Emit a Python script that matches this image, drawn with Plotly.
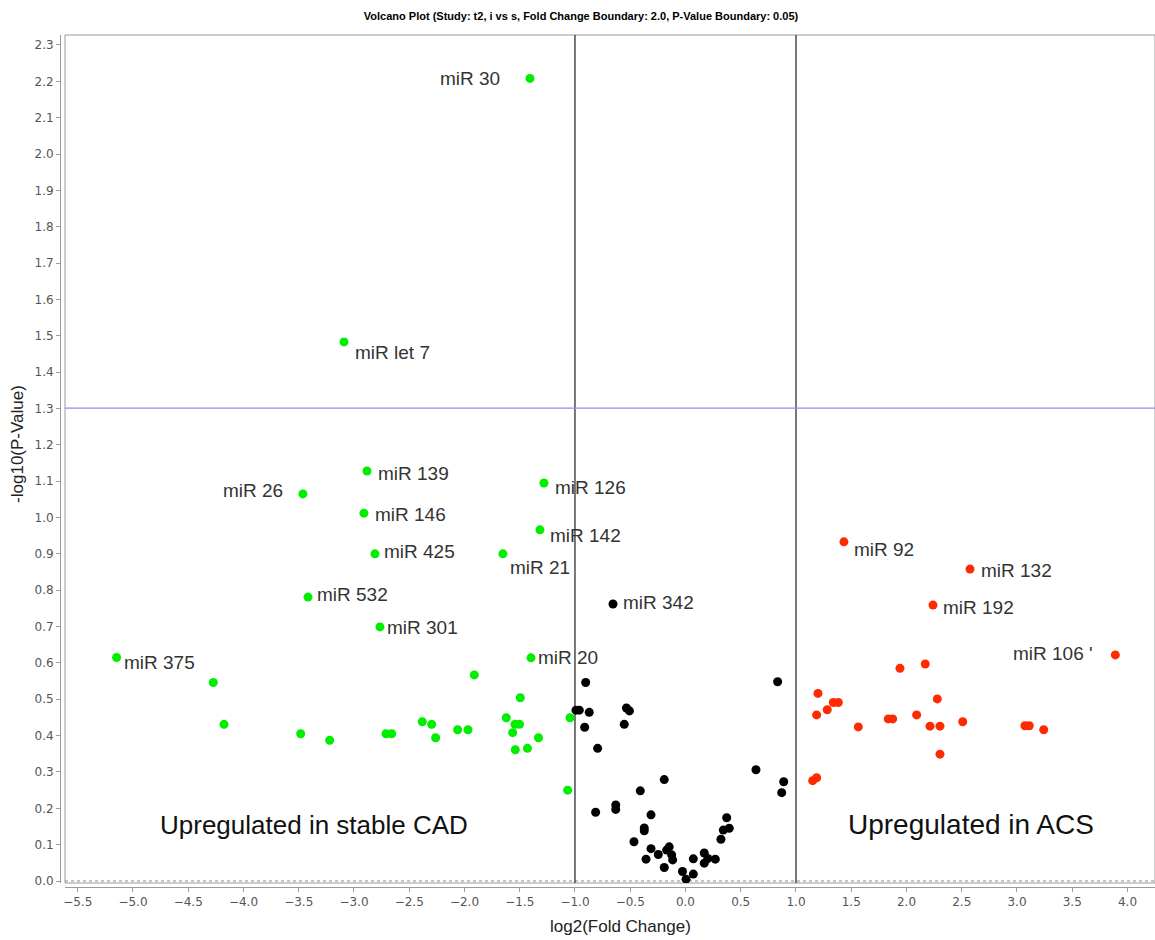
import plotly.graph_objects as go

# ---------------- data ----------------
green_x = [-1.407, -3.090, -2.882, -3.462, -1.281, -2.910, -1.317, -2.810, -1.652, -3.416,
           -2.765, -5.148, -1.398,
           -4.273, -4.176, -3.482, -3.220, -2.710, -2.659, -2.382, -2.297, -2.261, -2.062,
           -1.968, -1.911, -1.622, -1.543, -1.502, -1.564, -1.495, -1.330, -1.540, -1.430,
           -1.045, -1.066]
green_y = [2.208, 1.483, 1.128, 1.065, 1.095, 1.012, 0.966, 0.900, 0.900, 0.781,
           0.699, 0.615, 0.614,
           0.546, 0.431, 0.405, 0.387, 0.405, 0.405, 0.438, 0.431, 0.394, 0.416,
           0.416, 0.567, 0.449, 0.431, 0.431, 0.408, 0.504, 0.394, 0.361, 0.365,
           0.449, 0.250]
green_labels = ["miR 30", "miR let 7", "miR 139", "miR 26", "miR 126", "miR 146", "miR 142",
                "miR 425", "miR 21", "miR 532", "miR 301", "miR 375", "miR 20"]

black_x = [-0.656,
           -0.903, -0.991, -0.961, -0.871, -0.912, -0.795, -0.534, -0.507, -0.554, 0.834,
           -0.192, -0.409, -0.813, -0.631, -0.631, -0.312, 0.638, 0.889, 0.871, -0.373,
           -0.373, -0.466, 0.373, 0.342, 0.396, 0.321, -0.312, -0.357, -0.246, -0.170,
           -0.147, -0.125, -0.116, -0.192, -0.027, 0.005, 0.071, 0.071, 0.170, 0.170,
           0.202, 0.270]
black_y = [0.762,
           0.546, 0.470, 0.470, 0.464, 0.423, 0.365, 0.476, 0.468, 0.431, 0.548,
           0.279, 0.248, 0.189, 0.209, 0.197, 0.182, 0.306, 0.273, 0.243, 0.138,
           0.146, 0.108, 0.174, 0.140, 0.145, 0.115, 0.089, 0.060, 0.073, 0.085,
           0.094, 0.072, 0.058, 0.037, 0.026, 0.005, 0.061, 0.019, 0.077, 0.049,
           0.062, 0.060]
black_labels = ["miR 342"]

red_x = [1.434, 2.575, 2.240, 3.890,
         1.941, 2.170, 1.199, 1.187, 1.283, 1.338, 1.383, 2.279, 1.564, 1.835, 1.875,
         2.092, 2.213, 2.303, 2.509, 3.072, 3.111, 3.242, 2.303, 1.151, 1.187]
red_y = [0.933, 0.858, 0.759, 0.622,
         0.585, 0.597, 0.516, 0.457, 0.471, 0.491, 0.491, 0.501, 0.424, 0.446, 0.446,
         0.457, 0.426, 0.426, 0.438, 0.427, 0.427, 0.416, 0.349, 0.276, 0.284]
red_labels = ["miR 92", "miR 132", "miR 192", "miR 106 '"]

x_ticks = [-5.5, -5.0, -4.5, -4.0, -3.5, -3.0, -2.5, -2.0, -1.5, -1.0, -0.5,
           0.0, 0.5, 1.0, 1.5, 2.0, 2.5, 3.0, 3.5, 4.0]
y_ticks = [round(0.1 * i, 1) for i in range(24)]
fc_bounds = [-1.0, 1.0]
p_bound = 1.30103

title_text = "Volcano Plot (Study: t2, i vs s, Fold Change Boundary: 2.0, P-Value Boundary: 0.05)"

# ---------------- styles ----------------
# label offsets in pixels: (xanchor, xshift, yshift)
label_style = {
    "miR 30": ("right", -28, 0), "miR let 7": ("left", 9, -11), "miR 139": ("left", 9, -3),
    "miR 26": ("right", -18, 3), "miR 126": ("left", 9, -5), "miR 146": ("left", 9, -1),
    "miR 142": ("left", 8, -6), "miR 425": ("left", 7, 2), "miR 21": ("left", 5, -14),
    "miR 532": ("left", 7, 3), "miR 301": ("left", 5, -1), "miR 375": ("left", 5, -5),
    "miR 20": ("left", 5, 0), "miR 342": ("left", 8, 2), "miR 92": ("left", 8, -8),
    "miR 132": ("left", 9, -1), "miR 192": ("left", 8, -2), "miR 106 '": ("right", -20, 1),
}

GREEN = "#00ee00"
RED = "#ff2a00"
BLACK = "#000000"
AX_GRAY = "#9a9a9a"
MSIZE = 9

fig = go.Figure()
for xs, ys, col in [(green_x, green_y, GREEN), (black_x, black_y, BLACK), (red_x, red_y, RED)]:
    fig.add_trace(go.Scatter(x=xs, y=ys, mode="markers",
                             marker=dict(color=col, size=MSIZE, line=dict(width=0)),
                             showlegend=False, hoverinfo="x+y"))

annotations = []
for xs, ys, labs in [(green_x, green_y, green_labels), (black_x, black_y, black_labels),
                     (red_x, red_y, red_labels)]:
    for i, lab in enumerate(labs):
        anc, xs_, ys_ = label_style[lab]
        annotations.append(dict(x=xs[i], y=ys[i], xref="x", yref="y", text=lab,
                                showarrow=False, xanchor=anc, yanchor="middle",
                                xshift=xs_, yshift=ys_,
                                font=dict(family="Liberation Sans, Arial", size=19, color="#333333")))

# region texts
annotations.append(dict(x=0.232, y=0.0728, xref="paper", yref="paper",
                        text="Upregulated in stable CAD", showarrow=False,
                        xanchor="center", yanchor="middle",
                        font=dict(family="Liberation Sans, Arial", size=26, color="#111111")))
annotations.append(dict(x=0.832, y=0.0728, xref="paper", yref="paper",
                        text="Upregulated in ACS", showarrow=False,
                        xanchor="center", yanchor="middle",
                        font=dict(family="Liberation Sans, Arial", size=28, color="#111111")))
# axis titles
annotations.append(dict(x=0.5123, y=-0.0469, xref="paper", yref="paper",
                        text="log2(Fold Change)", showarrow=False,
                        xanchor="center", yanchor="middle",
                        font=dict(family="Liberation Sans, Arial", size=17, color="#222222")))
annotations.append(dict(x=-0.0384, y=0.52, xref="paper", yref="paper",
                        text="-log10(P-Value)", showarrow=False, textangle=-90,
                        xanchor="center", yanchor="middle",
                        font=dict(family="Liberation Sans, Arial", size=17, color="#222222")))

shapes = []
# frame of data area
shapes.append(dict(type="rect", xref="x domain", yref="y domain", x0=0, x1=1, y0=0, y1=1,
                   line=dict(color=AX_GRAY, width=1), layer="below"))
# zero line (dotted)
shapes.append(dict(type="line", xref="x domain", yref="y", x0=0, x1=1, y0=0, y1=0,
                   line=dict(color="#888888", width=1, dash="dot"), layer="below"))
# fold change boundaries
for b in fc_bounds:
    shapes.append(dict(type="line", xref="x", yref="y domain", x0=b, x1=b, y0=0, y1=1,
                       line=dict(color="#4a4a4a", width=1.5), layer="below"))
# p-value boundary
shapes.append(dict(type="line", xref="x domain", yref="y", x0=0, x1=1, y0=p_bound, y1=p_bound,
                   line=dict(color="#8c8cff", width=1.2), layer="below"))

tick_font = dict(family="DejaVu Sans, Verdana", size=12, color="#555555")

fig.update_layout(
    width=1155, height=940,
    margin=dict(l=60, r=0, t=35, b=53),
    paper_bgcolor="white", plot_bgcolor="white",
    title=dict(text=title_text, x=581 / 1155, y=1 - 16 / 940, xref="container", yref="container",
               xanchor="center", yanchor="middle",
               font=dict(family="Liberation Sans Narrow, Liberation Sans, Arial", size=11,
                         color="#000000", weight="bold")),
    xaxis=dict(domain=[5 / 1095, 1], anchor="free", position=0,
               range=[-5.615, 4.249], tickvals=x_ticks, tickformat=".1f",
               showgrid=False, zeroline=False, showline=True, linecolor=AX_GRAY, linewidth=1,
               ticks="outside", ticklen=4, tickcolor=AX_GRAY, tickfont=tick_font),
    yaxis=dict(domain=[4 / 852, 1], anchor="free", position=0,
               range=[-0.0055, 2.3274], tickvals=y_ticks, tickformat=".1f",
               showgrid=False, zeroline=False, showline=True, linecolor=AX_GRAY, linewidth=1,
               ticks="outside", ticklen=4, tickcolor=AX_GRAY, tickfont=tick_font),
    annotations=annotations,
    shapes=shapes,
)

fig.write_html("out.html")
